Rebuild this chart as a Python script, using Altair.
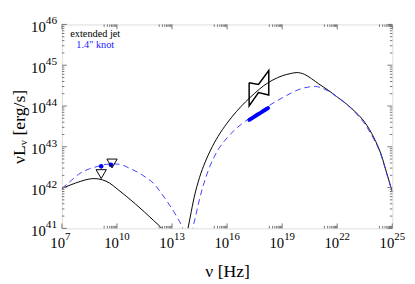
import altair as alt
import pandas as pd
import numpy as np

# ---- data (log10 values) ----
solid_lo_lx = [7.0, 7.5, 8.0, 8.5, 8.8, 9.2, 9.6, 10.0, 10.5, 11.0, 11.5, 12.0, 12.5, 12.7]
solid_lo_ly = [41.98, 42.07, 42.15, 42.21, 42.22, 42.19, 42.11, 41.97, 41.79, 41.6, 41.4, 41.19, 40.97, 40.85]

solid_hi_lx = [13.8, 13.87, 14.0, 14.2, 14.5, 14.8, 15.1, 15.5, 16.0, 16.5, 17.0, 17.5, 18.0, 18.5, 19.0, 19.5,
               19.8, 20.2, 20.6, 21.0, 21.5, 22.0, 22.5, 23.0, 23.5, 24.0, 24.4, 24.7, 25.0]
solid_hi_ly = [40.84, 41.0, 41.3, 41.75, 42.25, 42.62, 42.92, 43.25, 43.58, 43.86, 44.10, 44.31, 44.50, 44.64,
               44.74, 44.80, 44.82, 44.78, 44.67, 44.54, 44.39, 44.22, 44.05, 43.85, 43.60, 43.22, 42.8, 42.35, 41.9]

dash_lo_lx = [7.0, 7.5, 7.89, 8.5, 8.96, 9.4, 9.85, 10.3, 10.74, 11.2, 11.6, 12.0, 12.35, 12.88, 13.24, 13.6, 13.7]
dash_lo_ly = [41.98, 42.17, 42.32, 42.46, 42.52, 42.57, 42.58, 42.55, 42.46, 42.36, 42.24, 42.1, 41.9, 41.56, 41.3,
              40.98, 40.85]

dash_hi_lx = [14.07, 14.13, 14.3, 14.5, 14.7, 15.0, 15.5, 16.0, 16.5, 17.0, 17.5, 18.0, 18.5, 19.0, 19.5, 20.0,
              20.5, 20.8, 21.1, 21.5, 22.0, 22.5, 23.0, 23.5, 24.0, 24.4, 24.7, 25.0]
dash_hi_ly = [40.87, 41.0, 41.33, 41.72, 42.05, 42.45, 42.92, 43.22, 43.45, 43.63, 43.79, 43.93, 44.07, 44.2,
              44.32, 44.42, 44.47, 44.48, 44.45, 44.37, 44.22, 44.05, 43.83, 43.56, 43.18, 42.78, 42.33, 41.88]

knot_seg_lx = [17.21, 18.23]
knot_seg_ly = [43.66, 43.95]

bowtie_lx = [17.2, 17.71, 18.27, 18.27, 17.71, 17.2, 17.2]
bowtie_ly = [44.57, 44.53, 44.87, 44.27, 44.33, 44.0, 44.57]

tri_lx = [9.14, 9.73]
tri_ly = [42.33, 42.59]

dot_lx = [9.14, 9.67]
dot_ly = [42.52, 42.56]

x_major_exp = [7, 10, 13, 16, 19, 22, 25]
y_major_exp = [41, 42, 43, 44, 45, 46]
legend_labels = ["extended jet", "1.4\" knot"]
legend_colors = ["black", "#1a1aff"]


def frame(lx, ly):
    return pd.DataFrame({"x": 10.0 ** np.array(lx, dtype=float),
                         "y": 10.0 ** np.array(ly, dtype=float),
                         "o": list(range(len(lx)))})


SERIF = "Liberation Serif"
W, H = 337, 208
TC = "#777777"

xscale = alt.Scale(type="log", domain=[1e7, 1e25], nice=False)
yscale = alt.Scale(type="log", domain=[1e41, 1e46], nice=False)

x_axis = alt.Axis(values=[10.0 ** e for e in x_major_exp], labels=False,
                  title="ν [Hz]", grid=False, ticks=False, domain=False,
                  titleFont=SERIF, titleFontSize=18, titleFontWeight="normal", titleColor="black",
                  titleY=49, titleBaseline="alphabetic")
y_axis = alt.Axis(values=[10.0 ** e for e in y_major_exp], labels=False,
                  title="νLᵥ [erg/s]", grid=False, ticks=False, domain=False,
                  titleFont=SERIF, titleFontSize=18, titleFontWeight="normal", titleColor="black",
                  titleAngle=270, titleX=-38, titleY=H / 2, titleBaseline="alphabetic")

X = alt.X("x:Q", scale=xscale, axis=x_axis)
Y = alt.Y("y:Q", scale=yscale, axis=y_axis)


def line(df, color, width, dash=None, cap="butt", interp="monotone"):
    kw = dict(color=color, strokeWidth=width, clip=True, interpolate=interp, strokeCap=cap)
    if dash:
        kw["strokeDash"] = dash
    return alt.Chart(df).mark_line(**kw).encode(x=X, y=Y, order="o:Q")


layers = [
    line(frame(solid_lo_lx, solid_lo_ly), "black", 1),
    line(frame(solid_hi_lx, solid_hi_ly), "black", 1),
    line(frame(dash_lo_lx, dash_lo_ly), "#4040ff", 1, [6, 4]),
    line(frame(dash_hi_lx, dash_hi_ly), "#4040ff", 1, [6, 4]),
    line(frame(knot_seg_lx, knot_seg_ly), "#0000ff", 4, cap="round", interp="linear"),
    line(frame(bowtie_lx, bowtie_ly), "black", 1.5, interp="linear"),
    alt.Chart(frame(dot_lx, dot_ly)).mark_point(shape="circle", filled=True, color="#0000ff", size=22, opacity=1)
    .encode(x=X, y=Y),
    alt.Chart(frame(tri_lx, tri_ly)).mark_point(shape="triangle-down", filled=False, color="black", size=110,
                                                strokeWidth=1, opacity=1)
    .encode(x=X, y=Y),
]

# inward ticks
xmaj = pd.DataFrame({"x": [10.0 ** e for e in x_major_exp]})
xmin_vals = []
for e in x_major_exp:
    for k in range(2, 10):
        v = k * 10.0 ** (e - 1)
        if 1e7 <= v <= 1e25:
            xmin_vals.append(v)
xmin = pd.DataFrame({"x": xmin_vals})
ymaj = pd.DataFrame({"y": [10.0 ** e for e in y_major_exp]})
ymin_vals = [k * 10.0 ** e for e in y_major_exp[:-1] for k in range(2, 10)]
ymin = pd.DataFrame({"y": ymin_vals})

for df, ln in [(xmaj, 5), (xmin, 2.5)]:
    layers.append(alt.Chart(df).mark_rule(color=TC, strokeWidth=1)
                  .encode(x=X, y=alt.value(H), y2=alt.value(H - ln)))
    layers.append(alt.Chart(df).mark_rule(color=TC, strokeWidth=1)
                  .encode(x=X, y=alt.value(0), y2=alt.value(ln)))
for df, ln in [(ymaj, 5), (ymin, 2.5)]:
    layers.append(alt.Chart(df).mark_rule(color=TC, strokeWidth=1)
                  .encode(y=Y, x=alt.value(0), x2=alt.value(ln)))
    layers.append(alt.Chart(df).mark_rule(color=TC, strokeWidth=1)
                  .encode(y=Y, x=alt.value(W), x2=alt.value(W - ln)))

# tick labels: "10" with raised exponent
xl = pd.DataFrame({"x": [10.0 ** e for e in x_major_exp], "e": [str(e) for e in x_major_exp]})
xl1 = xl[xl["e"].str.len() == 1]
xl2 = xl[xl["e"].str.len() == 2]
for df, off in [(xl1, 3.2), (xl2, 2.0)]:
    layers.append(alt.Chart(df).mark_text(text="10", font=SERIF, fontSize=15, align="right",
                                          baseline="alphabetic", dx=off, color="black")
                  .encode(x=X, y=alt.value(H + 20)))
    layers.append(alt.Chart(df).mark_text(font=SERIF, fontSize=11, align="left",
                                          baseline="alphabetic", dx=off, color="black")
                  .encode(x=X, y=alt.value(H + 12), text="e:N"))

yl = pd.DataFrame({"y": [10.0 ** e for e in y_major_exp], "e": [str(e) for e in y_major_exp]})
layers.append(alt.Chart(yl).mark_text(text="10", font=SERIF, fontSize=15, align="right",
                                      baseline="alphabetic", dy=7.5, color="black")
              .encode(y=Y, x=alt.value(-16.5)))
layers.append(alt.Chart(yl).mark_text(font=SERIF, fontSize=11.5, align="left",
                                      baseline="alphabetic", dy=0, color="black")
              .encode(y=Y, x=alt.value(-16.5), text="e:N"))

# legend text
leg = pd.DataFrame({"t": legend_labels, "c": legend_colors, "yy": [10, 20.6]})
layers.append(alt.Chart(leg).mark_text(font=SERIF, fontSize=10.5, align="center", baseline="middle")
              .encode(text="t:N", x=alt.value(34), y=alt.Y("yy:Q", scale=None),
                      color=alt.Color("c:N", scale=None, legend=None)))

chart = alt.layer(*layers).properties(
    width=W, height=H,
    autosize=alt.AutoSizeParams(type="none"),
    padding={"left": 55, "top": 14, "right": 15, "bottom": 54},
).configure_view(stroke=TC, strokeWidth=1).configure(background="white")

chart.save("out.html", embed_options={"renderer": "svg", "actions": False})
